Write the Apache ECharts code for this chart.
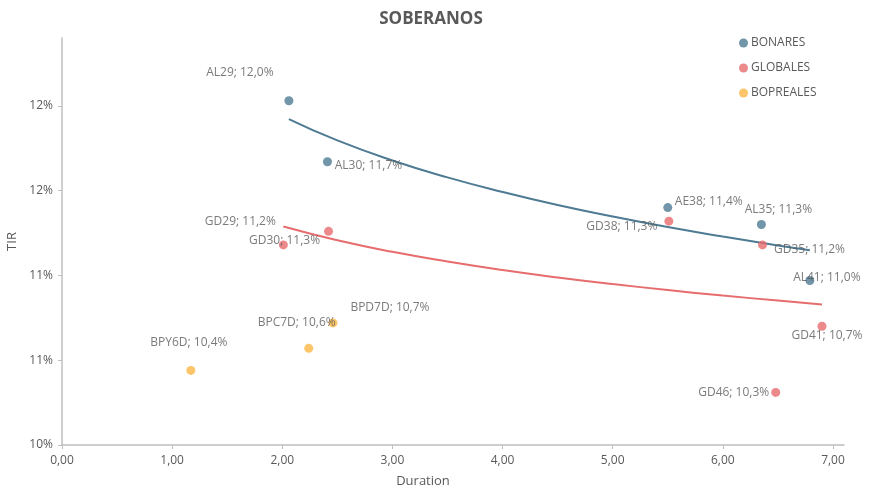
<!DOCTYPE html>
<html>
<head>
<meta charset="utf-8">
<script src="https://cdn.jsdelivr.net/npm/echarts@6/dist/echarts.min.js"></script>
<style>
  html, body { margin: 0; padding: 0; background: #fff; }
  #chart { width: 873px; height: 488px; }
</style>
</head>
<body>
<div id="chart"></div>
<script>
// BONARES
const bonaresNames = ["AL29", "AL30", "AE38", "AL35", "AL41"];
const bonaresDuration = [2.06, 2.41, 5.50, 6.35, 6.79];
const bonaresTir = [12.03, 11.67, 11.40, 11.30, 10.97];

// GLOBALES
const globalesNames = ["GD29", "GD30", "GD38", "GD35", "GD41", "GD46"];
const globalesDuration = [2.01, 2.42, 5.51, 6.36, 6.90, 6.48];
const globalesTir = [11.18, 11.26, 11.32, 11.18, 10.70, 10.31];

// BOPREALES
const boprealesNames = ["BPY6D", "BPC7D", "BPD7D"];
const boprealesDuration = [1.17, 2.24, 2.46];
const boprealesTir = [10.44, 10.57, 10.72];

// lineas de tendencia
const trendBonaresX = [2.06, 2.5, 3, 3.5, 4, 4.5, 5, 5.5, 6, 6.5, 6.79];
const trendBonaresY = [11.922, 11.796, 11.678, 11.578, 11.492, 11.415, 11.347, 11.285, 11.229, 11.177, 11.149];
const trendGlobalesX = [2.01, 2.5, 3, 3.5, 4, 4.5, 5, 5.5, 6, 6.5, 6.9];
const trendGlobalesY = [11.288, 11.207, 11.139, 11.082, 11.032, 10.988, 10.949, 10.914, 10.881, 10.852, 10.829];

// ticks
const xTicks = [0, 1, 2, 3, 4, 5, 6, 7];
const yTicks = [10, 10.5, 11, 11.5, 12];

// desplazamiento de etiquetas (px)
const labelOffset = {
  AL29: [-49, -28], AL30: [41, 4], AE38: [41, -6], AL35: [17, -15], AL41: [17, -3],
  GD29: [-43, -23], GD30: [-44, 9], GD38: [-47, 5], GD35: [47, 5], GD41: [5, 9], GD46: [-42, 0],
  BPY6D: [-2, -28], BPC7D: [-12, -26], BPD7D: [57, -15],
};

const COLORS = { blue: "#4e7b93", red: "#e66c6e", orange: "#fbb645" };
const TEXT = "#595959";
const FONT = "'Open Sans', sans-serif";

const fmtPct = (v) => v.toFixed(1).replace(".", ",") + "%";

/**
 * Arma los puntos con su etiqueta
 */
const buildPoints = (names, xs, ys) =>
  names.map((name, i) => ({
    name,
    value: [xs[i], ys[i]],
    label: { offset: labelOffset[name] },
  }));

const scatterSeries = (name, color, names, xs, ys) => ({
  name,
  type: "scatter",
  symbolSize: 9,
  itemStyle: { color },
  data: buildPoints(names, xs, ys),
  label: {
    show: true,
    position: "inside",
    color: TEXT,
    fontFamily: FONT,
    fontSize: 12,
    formatter: (p) => `${p.name}; ${fmtPct(p.value[1])}`,
  },
  z: 3,
});

const trendSeries = (color, xs, ys) => ({
  type: "line",
  smooth: true,
  symbol: "none",
  silent: true,
  lineStyle: { color, width: 2 },
  data: xs.map((x, i) => [x, ys[i]]),
  z: 2,
});

const chart = echarts.init(document.getElementById("chart"));

const option = {
  animation: false,
  backgroundColor: "#fff",
  textStyle: { fontFamily: FONT },
  title: {
    text: "SOBERANOS",
    left: 426,
    top: 6,
    textAlign: "center",
    textStyle: { color: TEXT, fontSize: 17, fontWeight: "bold", fontFamily: FONT },
  },
  legend: {
    data: ["BONARES", "GLOBALES", "BOPREALES"],
    orient: "vertical",
    left: 734,
    top: 32,
    icon: "circle",
    itemWidth: 9,
    itemHeight: 9,
    itemGap: 13,
    textStyle: { color: TEXT, fontSize: 12, fontFamily: FONT, padding: [0, 0, 0, -2] },
  },
  grid: { left: 62, right: 29, top: 38, bottom: 43, outerBoundsMode: "none" },
  xAxis: {
    type: "value",
    min: 0,
    max: 7.1,
    interval: 1,
    name: "Duration",
    nameLocation: "middle",
    nameGap: 30,
    nameTextStyle: { color: TEXT, fontSize: 13, fontFamily: FONT, padding: [0, 60, 0, 0] },
    axisLine: { show: true, lineStyle: { color: "#bfbfbf", width: 1.5 } },
    axisTick: { show: true, length: 4, customValues: xTicks, lineStyle: { color: "#bfbfbf" } },
    axisLabel: {
      customValues: xTicks,
      color: TEXT,
      fontSize: 12,
      margin: 10,
      formatter: (v) => v.toFixed(2).replace(".", ","),
    },
    splitLine: { show: false },
  },
  yAxis: {
    type: "value",
    min: 10,
    max: 12.4,
    interval: 0.5,
    name: "TIR",
    nameLocation: "middle",
    nameGap: 42,
    nameTextStyle: { color: TEXT, fontSize: 13, fontFamily: FONT },
    axisLine: { show: true, lineStyle: { color: "#bfbfbf", width: 1.5 } },
    axisTick: { show: true, length: 4, customValues: yTicks, lineStyle: { color: "#bfbfbf" } },
    axisLabel: {
      customValues: yTicks,
      color: TEXT,
      fontSize: 12,
      margin: 9,
      formatter: (v) => Math.round(v) + "%",
    },
    splitLine: { show: false },
  },
  series: [
    trendSeries(COLORS.blue, trendBonaresX, trendBonaresY),
    trendSeries(COLORS.red, trendGlobalesX, trendGlobalesY),
    scatterSeries("BONARES", COLORS.blue, bonaresNames, bonaresDuration, bonaresTir),
    scatterSeries("GLOBALES", COLORS.red, globalesNames, globalesDuration, globalesTir),
    scatterSeries("BOPREALES", COLORS.orange, boprealesNames, boprealesDuration, boprealesTir),
  ],
};

chart.setOption(option);
</script>
</body>
</html>
